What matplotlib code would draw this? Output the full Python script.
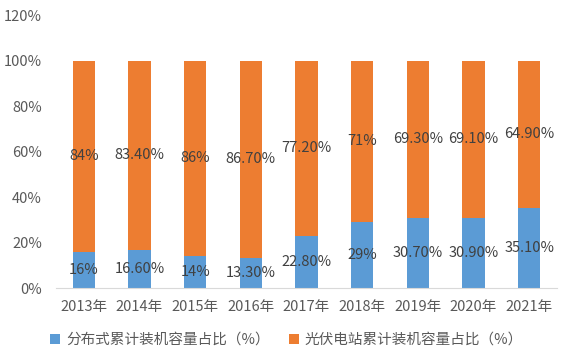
import numpy as np
import matplotlib
matplotlib.use('Agg')
import matplotlib.pyplot as plt

plt.rcParams['font.family'] = ['Noto Sans CJK SC', 'DejaVu Sans']

years = ['2013年', '2014年', '2015年', '2016年', '2017年', '2018年', '2019年', '2020年', '2021年']
distributed = [16, 16.6, 14, 13.3, 22.8, 29, 30.7, 30.9, 35.1]
station = [84, 83.4, 86, 86.7, 77.2, 71, 69.3, 69.1, 64.9]
dist_labels = ['16%', '16.60%', '14%', '13.30%', '22.80%', '29%', '30.70%', '30.90%', '35.10%']
station_labels = ['84%', '83.40%', '86%', '86.70%', '77.20%', '71%', '69.30%', '69.10%', '64.90%']

blue = '#5B9BD5'
orange = '#ED7D31'
grey = '#595959'

fig = plt.figure(figsize=(5.62, 3.6), dpi=100)
ax = fig.add_axes([0.0996, 0.2, 0.8914, 0.758])

x = np.arange(len(years))
b1 = ax.bar(x, distributed, width=0.4, color=blue, label='分布式累计装机容量占比（%）')
b2 = ax.bar(x, station, width=0.4, bottom=distributed, color=orange, label='光伏电站累计装机容量占比（%）')

for i in range(len(years)):
    ax.text(x[i], distributed[i] / 2, dist_labels[i], ha='center', va='center',
            fontsize=10.5, color='#404040')
    ax.text(x[i], distributed[i] + station[i] / 2, station_labels[i], ha='center', va='center',
            fontsize=10.5, color='#404040')

ax.set_xlim(-0.5, len(years) - 0.5)
ax.set_ylim(0, 120)
ax.set_yticks(range(0, 121, 20))
ax.set_yticklabels([f'{v}%' for v in range(0, 121, 20)])
ax.set_xticks(x)
ax.set_xticklabels(years)
ax.tick_params(axis='both', length=0, labelsize=10.5, colors=grey)
ax.tick_params(axis='x', pad=9)
ax.tick_params(axis='y', pad=10)
for s in ['top', 'right', 'left']:
    ax.spines[s].set_visible(False)
ax.spines['bottom'].set_color('#D9D9D9')

fig.legend(handles=[b1, b2], loc='lower left', bbox_to_anchor=(0.066, 0.0), ncol=2,
           frameon=False, fontsize=10.5, labelcolor=grey, handlelength=0.7, handleheight=0.7,
           handletextpad=0.4, columnspacing=1.3)

fig.savefig('out.png', dpi=100)
